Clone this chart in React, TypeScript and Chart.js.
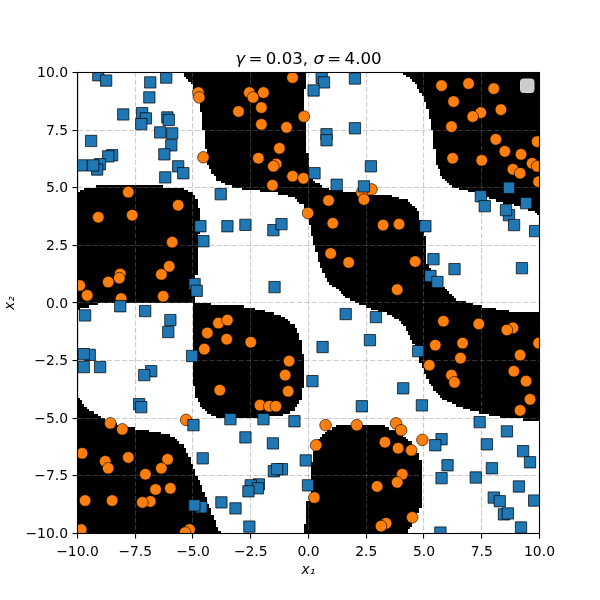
import React, { useEffect, useRef } from "react";
import { Chart, registerables } from "chart.js";

Chart.register(...registerables);

const xTicks = [-10, -7.5, -5, -2.5, 0, 2.5, 5, 7.5, 10];
const yTicks = [-10, -7.5, -5, -2.5, 0, 2.5, 5, 7.5, 10];

const blueX = [-9.10,-8.76,-6.85,-6.16,-6.89,-8.02,-7.20,-7.04,-7.24,-6.11,-6.05,-6.42,-5.90,-5.94,-9.41,-6.24,-8.50,-8.67,-9.03,-9.15,-9.32,-9.83,-5.64,-5.42,-6.20,-3.80,-4.68,-3.51,-2.73,-1.52,-1.17,-4.55,-1.47,-4.93,-4.84,
  -9.67,-8.15,-7.07,-5.98,-6.07,-5.04,-9.47,-9.73,-9.73,-9.02,-6.81,-7.11,-7.33,-7.24,-4.98,-3.38,-1.95,-0.61,-2.73,-1.54,-4.58,-0.12,-1.50,-1.15,-1.36,-0.02,-2.15,-2.50,-2.19,-2.60,-3.77,-3.16,-4.64,-4.94,-2.56,
  0.57,0.67,0.22,2.01,2.01,0.78,0.78,2.70,0.26,1.22,2.40,8.68,7.46,7.63,9.42,8.68,8.55,8.90,9.81,5.06,5.41,6.32,9.24,5.28,5.58,
  1.61,2.92,2.66,4.75,0.61,0.17,4.10,2.31,4.91,7.41,8.59,5.76,5.49,7.72,9.29,9.59,6.02,7.94,5.76,7.24,9.11,8.02,8.28,8.46,8.63,9.77,9.20,5.71];
const blueY = [9.88,9.65,9.57,9.78,8.92,8.18,8.24,8.01,7.76,8.05,7.94,7.40,7.36,6.84,7.03,6.45,6.41,6.36,6.02,5.79,5.97,5.97,5.93,5.63,5.45,4.72,3.33,3.33,3.39,3.16,3.42,2.68,0.69,0.82,0.53,
  -0.54,-0.14,-0.35,-0.74,-1.26,-2.30,-2.25,-2.22,-2.78,-2.78,-2.96,-3.13,-4.39,-4.52,-5.30,-5.04,-5.04,-5.13,-5.83,-6.09,-6.74,-6.83,-7.30,-7.21,-7.21,-7.91,-7.87,-7.91,-8.04,-8.17,-8.65,-8.91,-8.86,-8.78,-9.70,
  9.77,9.57,9.22,9.74,7.58,7.32,7.06,5.93,5.63,5.13,5.06,5.00,4.63,4.20,4.33,3.81,4.03,3.38,3.12,3.33,1.90,1.47,1.51,1.17,0.91,
  -0.48,-0.61,-1.61,-2.09,-1.91,-3.39,-3.70,-4.48,-4.44,-5.17,-5.57,-5.91,-6.17,-6.13,-6.43,-6.91,-7.04,-7.17,-7.60,-7.57,-7.96,-8.44,-8.60,-9.17,-9.13,-8.57,-9.74,-9.96];

const orangeX = [-4.77,-4.73,-0.69,-2.56,-2.40,-1.95,-2.04,-3.03,-0.20,-2.04,-0.95,-1.26,-2.17,-4.55,-1.40,-1.52,-0.69,-0.22,-1.56,-7.80,-5.64,-9.10,-7.63,-0.02,-5.90,-6.03,-6.37,-8.15,-8.19,-8.67,-9.90,-9.58,-8.11,-6.29,
  -3.90,-3.51,-4.38,-3.54,-2.50,-4.51,-0.84,-1.01,-0.88,-3.84,-2.10,-1.70,-1.41,-5.30,-8.58,-8.06,-9.80,-8.80,-8.67,-7.80,-6.10,-6.37,-7.06,-6.62,-5.98,-9.67,-8.50,-6.85,-7.19,-9.84,-5.15,-5.34,
  5.76,6.93,8.02,6.28,8.33,7.46,7.11,6.19,8.11,9.90,8.50,9.20,9.68,9.90,8.85,9.16,6.24,7.50,9.96,2.73,2.31,2.40,0.87,1.05,3.23,3.92,0.96,1.74,4.62,3.84,
  5.84,7.37,8.85,8.59,5.49,6.67,6.58,9.96,9.16,8.89,5.23,6.19,6.32,9.42,9.59,9.16,0.74,2.09,3.79,4.01,4.93,0.33,3.31,3.88,4.45,4.06,3.84,2.97,0.25,4.49,3.36,3.14];
const orangeY = [9.13,8.92,9.78,9.13,8.92,9.13,8.48,8.31,8.09,7.75,7.62,6.71,6.28,6.32,6.03,5.93,5.50,5.41,5.11,4.81,4.24,3.72,3.81,3.90,2.64,1.59,1.24,1.26,1.08,0.91,0.76,0.33,0.19,0.29,
  -0.87,-0.74,-1.30,-1.57,-1.70,-2.00,-2.52,-3.13,-3.83,-3.78,-4.43,-4.48,-4.48,-5.07,-5.22,-5.48,-6.52,-6.87,-7.17,-6.70,-6.78,-7.17,-7.43,-8.09,-8.04,-8.57,-8.57,-8.61,-8.65,-9.83,-9.83,-9.96,
  9.43,9.52,9.30,8.74,8.39,8.26,8.09,7.65,7.10,7.00,6.58,6.45,6.06,5.93,5.80,5.63,6.28,6.19,5.26,4.93,4.79,4.49,4.45,3.46,3.38,3.42,2.15,1.76,1.80,0.58,
  -0.79,-0.91,-1.08,-1.17,-1.83,-1.74,-2.39,-1.74,-2.26,-2.96,-2.70,-3.13,-3.44,-3.39,-4.18,-4.66,-5.30,-5.30,-5.22,-5.52,-5.94,-6.17,-6.04,-6.30,-6.39,-7.43,-7.78,-7.96,-8.44,-9.30,-9.56,-9.68];

// Outlines of the dark decision regions, [x, y] in data units
const regionSnake = [[-5.42,10],[-5.35,9.78],[-5.13,9.57],[-4.96,9.35],[-4.77,8.99],[-4.62,8.12],[-4.51,7.11],[-4.34,5.96],[-3.97,5.31],[-3.25,5.02],[-2.46,4.88],[-1.52,4.81],[-0.65,4.59],[-0.22,4.23],[0,3.80],[0.07,3.22],[0.29,2.35],[0.51,1.63],[0.87,0.91],[1.60,0.26],[2.11,0],[2.83,-0.29],[3.56,-0.51],[4.14,-0.94],[4.43,-1.52],[4.58,-1.81],[4.84,-2.54],[5.01,-2.97],[5.23,-3.48],[5.74,-4.13],[6.47,-4.49],[7.49,-4.78],[8.65,-5.03],[10,-5.07],[10,-0.43],[8.72,-0.36],[7.49,-0.14],[6.40,0.14],[6.32,0.26],[5.74,0.76],[5.09,1.77],[5.09,2.78],[4.94,3.07],[4.80,3.94],[4.29,4.44],[3.56,4.66],[2.40,4.73],[1.24,4.88],[0.65,5.02],[0.22,5.31],[0,5.82],[-0.04,6.39],[-0.19,8.70],[-0.10,10]];
const regionTopRight = [[4.07,10],[4.58,9.57],[4.94,8.99],[5.23,8.12],[5.38,7.40],[5.52,6.10],[5.74,5.53],[6.10,5.09],[6.76,4.88],[7.49,4.66],[8.36,4.37],[9.23,4.16],[9.81,3.94],[10,3.80],[10,10]];
const regionLeft = [[-10,4.81],[-9.61,5.02],[-8.63,5.09],[-6.94,5.12],[-6,5.02],[-5.35,4.95],[-4.91,4.66],[-4.77,4.23],[-4.67,3.80],[-4.77,2.78],[-4.77,1.63],[-4.87,1.05],[-4.96,-0.36],[-5.06,0],[-8.02,0],[-9.03,-0.04],[-9.47,-0.14],[-10,-0.29]];
const regionCentreLeft = [[-4.96,0],[-3.83,-0.07],[-2.82,-0.14],[-1.81,-0.36],[-1.08,-0.58],[-0.65,-0.94],[-0.36,-1.52],[-0.26,-2.10],[-0.19,-2.97],[-0.29,-4.13],[-0.65,-4.71],[-1.37,-4.93],[-2.53,-5],[-3.68,-5],[-4.12,-4.93],[-4.55,-4.64],[-4.84,-4.13],[-4.96,-3.55]];
const regionBottomLeft = [[-10,-3.99],[-9.75,-4.35],[-9.39,-4.71],[-8.89,-5],[-8.45,-5.22],[-7.59,-5.43],[-6.72,-5.58],[-5.85,-5.80],[-5.42,-6.16],[-5.13,-6.74],[-4.91,-7.32],[-4.62,-7.97],[-4.26,-8.91],[-3.83,-10],[-10,-10]];
const regionBottom = [[-0.19,-10],[-0.19,-9.64],[-0.10,-9.57],[-0.10,-8.74],[0.07,-8.33],[0.12,-7.03],[0.29,-6.16],[0.58,-5.72],[1.09,-5.36],[1.53,-5.29],[3.05,-5.26],[3.85,-5.58],[4.43,-6.01],[4.80,-6.59],[4.94,-7.17],[4.94,-8.41],[4.87,-8.91],[4.65,-9.35],[4.22,-10]];
const regions = [regionSnake, regionTopRight, regionLeft, regionCentreLeft, regionBottomLeft, regionBottom];
const gridStep = 0.1;

const inside = (poly: number[][], x: number, y: number) => {
  let c = false;
  for (let i = 0, j = poly.length - 1; i < poly.length; j = i++) {
    const [xi, yi] = poly[i];
    const [xj, yj] = poly[j];
    if (yi > y !== yj > y && x < ((xj - xi) * (y - yi)) / (yj - yi) + xi) c = !c;
  }
  return c;
};

const decisionPlugin = {
  id: "decision",
  beforeDraw(chart: any) {
    const { ctx, scales } = chart;
    const sx = scales.x;
    const sy = scales.y;
    ctx.save();
    ctx.fillStyle = "#000";
    const n = Math.round(20 / gridStep);
    for (let r = 0; r < n; r++) {
      const yLo = -10 + r * gridStep;
      const yc = yLo + gridStep / 2;
      const top = Math.round(sy.getPixelForValue(yLo + gridStep));
      const bot = Math.round(sy.getPixelForValue(yLo));
      let start = -1;
      for (let c = 0; c <= n; c++) {
        const xLo = -10 + c * gridStep;
        const on = c < n && regions.some((p) => inside(p, xLo + gridStep / 2, yc));
        if (on && start < 0) start = c;
        if (!on && start >= 0) {
          const l = Math.round(sx.getPixelForValue(-10 + start * gridStep));
          const rr = Math.round(sx.getPixelForValue(xLo));
          ctx.fillRect(l, top, rr - l, bot - top);
          start = -1;
        }
      }
    }
    ctx.restore();
  },
  afterDraw(chart: any) {
    const { ctx, chartArea: a } = chart;
    ctx.save();
    // empty legend frame
    ctx.beginPath();
    ctx.roundRect(a.right - 19, a.top + 6.5, 13.5, 13.5, 2.8);
    ctx.fillStyle = "#cccccc";
    ctx.fill();
    ctx.strokeStyle = "#d6d6d6";
    ctx.lineWidth = 1;
    ctx.stroke();
    // axes frame
    ctx.strokeStyle = "#000";
    ctx.lineWidth = 1.1;
    ctx.strokeRect(a.left, a.top, a.right - a.left, a.bottom - a.top);
    // title with italic symbols
    const runs: [string, boolean][] = [["γ", true], ["\u2009=\u20090.03, ", false], ["σ", true], ["\u2009=\u20094.00", false]];
    const fontFor = (it: boolean) => `${it ? "italic " : ""}16.67px "DejaVu Sans"`;
    let w = 0;
    for (const [t, it] of runs) { ctx.font = fontFor(it); w += ctx.measureText(t).width; }
    let x = (a.left + a.right) / 2 - w / 2;
    ctx.fillStyle = "#000";
    ctx.textBaseline = "alphabetic";
    ctx.textAlign = "left";
    for (const [t, it] of runs) {
      ctx.font = fontFor(it);
      ctx.fillText(t, x, 64);
      x += ctx.measureText(t).width;
    }
    ctx.restore();
  },
};

const fmt = (v: number) => {
  const s = Math.abs(v).toFixed(1);
  return v < 0 ? "\u2212" + s : s;
};

const axis = (ticks: number[], label: string, isX: boolean) => ({
  type: "linear" as const,
  min: -10,
  max: 10,
  afterBuildTicks: (s: any) => { s.ticks = ticks.map((value) => ({ value })); },
  afterFit: (s: any) => { if (isX) { s.height = 66.5; s.paddingLeft = 0; s.paddingRight = 0; } else { s.width = 77.5; s.paddingTop = 0; s.paddingBottom = 0; } },
  ticks: {
    callback: (v: any) => fmt(Number(v)),
    color: "#000",
    font: { family: "DejaVu Sans", size: 13.9 },
    padding: isX ? 5.5 : 4.5,
    labelOffset: isX ? 0 : 1,
    autoSkip: false,
    maxRotation: 0,
  },
  grid: {
    color: "rgba(128,128,128,0.4)",
    lineWidth: 1.1,
    tickColor: "#000",
    tickLength: 5,
    tickWidth: 1.1,
    tickBorderDash: [],
  },
  border: { display: true, color: "#000", width: 1.1, dash: [5, 2.3] },
  title: {
    display: true,
    text: label,
    color: "#000",
    font: { family: "DejaVu Sans", size: 13.9, style: "italic" as const },
    padding: isX ? { top: 3, bottom: 21 } : { top: 2, bottom: 3 },
  },
});

export default function App() {
  const ref = useRef<HTMLCanvasElement>(null);
  useEffect(() => {
    document.body.style.margin = "0";
    const chart = new Chart(ref.current!, {
      type: "scatter",
      data: {
        datasets: [
          {
            label: "class 0",
            data: blueX.map((x, i) => ({ x, y: blueY[i] })),
            pointStyle: "rect",
            pointRadius: 8,
            backgroundColor: "#1f77b4",
            borderColor: "rgba(0,0,0,0.7)",
            borderWidth: 1,
            clip: 0,
          },
          {
            label: "class 1",
            data: orangeX.map((x, i) => ({ x, y: orangeY[i] })),
            pointStyle: "circle",
            pointRadius: 5.8,
            backgroundColor: "#ff7f0e",
            borderColor: "rgba(0,0,0,0.6)",
            borderWidth: 1,
            clip: 0,
          },
        ],
      },
      options: {
        responsive: false,
        animation: false,
        layout: { padding: { left: 0, right: 60.5, top: 72.5, bottom: 0 } },
        plugins: { legend: { display: false }, title: { display: false }, tooltip: { enabled: false } },
        scales: { x: axis(xTicks, "x\u2081", true), y: axis(yTicks, "x\u2082", false) },
      } as any,
      plugins: [decisionPlugin],
    });
    return () => chart.destroy();
  }, []);
  return (
    <div style={{ width: 600, height: 600 }}>
      <canvas ref={ref} width={600} height={600} style={{ display: "block" }} />
    </div>
  );
}
